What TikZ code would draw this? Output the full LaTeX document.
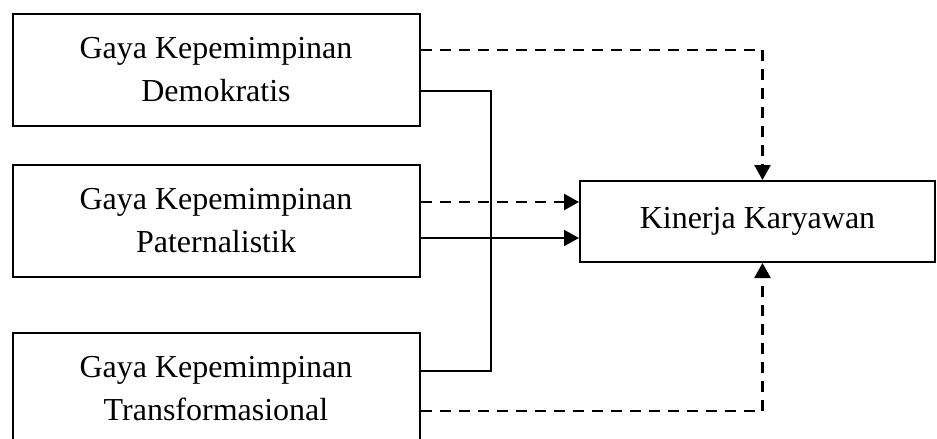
\documentclass[tikz,border=0pt]{standalone}
\usepackage{fontspec}
\setmainfont{Liberation Serif}
\usetikzlibrary{arrows.meta}
\begin{document}
\begin{tikzpicture}[x=1pt,y=-1pt,line width=2pt,
  box/.style={draw,line width=2pt,minimum width=407pt,minimum height=112pt,align=center,inner sep=0pt,font=\fontsize{32}{43}\selectfont},
  dashline/.style={line width=2.5pt,dash pattern=on 11pt off 8pt},
  tip/.style={-{Triangle[length=15pt,width=16pt]}}]
\useasboundingbox (0,0) rectangle (937,439);
\clip (0,0) rectangle (937,439);
\node[box] (d) at (216,70) {Gaya Kepemimpinan\\Demokratis};
\node[box] (p) at (216,221) {Gaya Kepemimpinan\\Paternalistik};
\node[box] (t) at (216,389) {Gaya Kepemimpinan\\Transformasional};
\node[box,minimum width=355pt,minimum height=81pt] (k) at (757.5,221.5) {Kinerja Karyawan};
\coordinate (j) at (491,200);
\draw[dashline,tip] ([yshift=20pt]d.east) -| ([xshift=5pt]k.north);
\draw[dashline,tip] ([yshift=19pt]p.east) -- ([yshift=19pt]p.east -| k.west);
\draw[tip] ([yshift=-17pt]p.east) -- ([yshift=-17pt]p.east -| k.west);
\draw ([yshift=-21pt]d.east) -| (j) |- ([yshift=18pt]t.east);
\draw[dashline,tip] ([yshift=-22pt]t.east) -| ([xshift=5pt]k.south);
\end{tikzpicture}
\end{document}
